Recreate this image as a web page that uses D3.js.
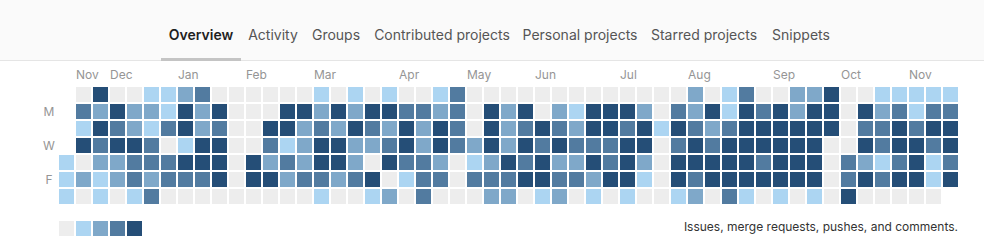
<!DOCTYPE html>
<html>
<head>
<meta charset="utf-8">
<script src="https://cdn.jsdelivr.net/npm/d3@7"></script>
<style>
  body { margin: 0; background: #fff; }
  svg { display: block; font-family: Inter, "Noto Sans", sans-serif; }
</style>
</head>
<body>
<div id="chart"></div>
<script>
const ancho = 984
const alto = 252

// tabs de la cabecera
const tabs = ["Overview", "Activity", "Groups", "Contributed projects", "Personal projects", "Starred projects", "Snippets"]
const tabCentros = [201, 273, 336, 442, 580, 704, 801]

// meses y la semana (columna) donde aparece la etiqueta
const meses = ["Nov", "Dec", "Jan", "Feb", "Mar", "Apr", "May", "Jun", "Jul", "Aug", "Sep", "Oct", "Nov"]
const semanaMes = [1, 3, 7, 11, 15, 20, 24, 28, 33, 37, 42, 46, 50]

const diasEtiqueta = [[1, "M"], [3, "W"], [5, "F"]]

// nivel de contribuciones (0-4) por dia de la semana, una entrada por semana (53)
const domingo = [null,0,4,0,0,1,1,2,3,0, 0,0,0,0,0,1,0,1,0,1, 0,0,1,3,0,0,0,0,0,0, 0,0,0,0,0,0,0,2,0,1, 3,0,0,2,2,4,0,0,1,1, 1,1,1]
const lunes   = [null,3,2,4,2,2,1,4,2,4, 0,0,0,4,4,2,4,2,4,4, 3,3,2,3,0,4,2,4,0,2, 1,4,4,4,2,0,3,2,4,1, 4,3,4,2,4,4,0,4,2,3, 1,3,3]
const martes  = [null,1,4,3,2,1,3,4,2,3, 0,0,4,4,2,3,2,4,3,2, 4,2,4,3,0,4,2,3,4,3, 2,4,4,3,4,1,4,3,2,3, 4,4,4,4,4,4,0,3,3,4, 3,4,4]
const miercoles = [null,4,3,4,4,3,0,1,4,4, 0,0,3,1,2,4,4,2,2,3, 4,2,4,3,2,4,2,4,3,4, 3,3,3,4,4,0,3,4,3,4, 4,4,4,4,4,0,0,4,3,4, 4,3,4]
const jueves  = [1,0,2,2,3,3,3,4,4,4, 0,4,2,3,2,4,4,2,0,4, 3,3,2,0,1,2,4,3,4,2, 2,4,3,4,2,0,4,4,4,4, 4,3,4,4,4,0,3,2,1,3, 4,1,3]
const viernes = [1,2,1,2,3,2,3,3,3,4, 0,4,4,2,3,3,2,3,4,0, 1,3,3,0,3,3,3,4,4,3, 3,2,4,4,1,0,4,3,4,4, 4,4,4,4,4,0,3,4,3,4, 4,1,4]
const sabado  = [1,0,1,0,1,3,0,0,0,0, 0,0,0,0,0,1,0,0,1,2, 0,3,0,0,0,2,2,0,1,2, 0,1,0,1,0,0,1,2,0,3, 1,0,1,0,1,0,4,0,0,0, 0,0,null]

const niveles = [0, 1, 2, 3, 4]
const leyendaTexto = "Issues, merge requests, pushes, and comments."

const semanas = [domingo, lunes, martes, miercoles, jueves, viernes, sabado]
const celdas = []
semanas.forEach((fila, dia) => {
    fila.forEach((v, semana) => {
        if (v !== null) celdas.push({ dia: dia, semana: semana, nivel: v })
    })
})

const svg = d3.select("#chart").append("svg")
    .attr("width", ancho)
    .attr("height", alto)

// cabecera con pestañas
svg.append("rect").attr("width", ancho).attr("height", 61).attr("fill", "#fafafa")
svg.append("rect").attr("y", 60).attr("width", ancho).attr("height", 1).attr("fill", "#e5e5e5")

svg.append("g").selectAll("text")
    .data(tabs)
    .join("text")
    .attr("x", (d, i) => tabCentros[i])
    .attr("y", 40)
    .attr("text-anchor", "middle")
    .attr("font-size", 14)
    .attr("font-weight", (d, i) => i === 0 ? 600 : 400)
    .attr("fill", (d, i) => i === 0 ? "#1f1f1f" : "#555")
    .text(d => d)

svg.append("rect").attr("x", 161).attr("y", 58).attr("width", 80).attr("height", 3).attr("fill", "#c4c4c4")

// escalas
const x = d3.scaleBand().domain(d3.range(53)).range([59, 958]).paddingInner(2 / 17).paddingOuter(0)
const y = d3.scaleBand().domain(d3.range(7)).range([87, 204]).paddingInner(2 / 17).paddingOuter(0)
const color = d3.scaleOrdinal().domain(niveles)
    .range(["#ededed", "#acd5f2", "#7fa8c9", "#527ba0", "#254e77"])

svg.append("g").attr("class", "celdas")
    .selectAll("rect")
    .data(celdas)
    .join("rect")
    .attr("x", d => x(d.semana))
    .attr("y", d => y(d.dia))
    .attr("width", x.bandwidth())
    .attr("height", y.bandwidth())
    .attr("fill", d => color(d.nivel))

svg.append("g").attr("class", "meses")
    .selectAll("text")
    .data(meses)
    .join("text")
    .attr("x", (d, i) => x(semanaMes[i]))
    .attr("y", 79)
    .attr("font-size", 12)
    .attr("fill", "#959595")
    .text(d => d)

svg.append("g").attr("class", "dias")
    .selectAll("text")
    .data(diasEtiqueta)
    .join("text")
    .attr("x", 49)
    .attr("y", d => y(d[0]) + y.bandwidth() / 2 + 4.5)
    .attr("text-anchor", "middle")
    .attr("font-size", 12)
    .attr("fill", "#959595")
    .text(d => d[1])

// leyenda
const xl = d3.scaleBand().domain(niveles).range([59, 142]).paddingInner(2 / 17).paddingOuter(0)
svg.append("g").attr("class", "leyenda")
    .selectAll("rect")
    .data(niveles)
    .join("rect")
    .attr("x", d => xl(d))
    .attr("y", 221)
    .attr("width", xl.bandwidth())
    .attr("height", 15)
    .attr("fill", d => color(d))

svg.append("text")
    .attr("x", 958)
    .attr("y", 231)
    .attr("text-anchor", "end")
    .attr("font-size", 12)
    .attr("fill", "#333")
    .text(leyendaTexto)
</script>
</body>
</html>
